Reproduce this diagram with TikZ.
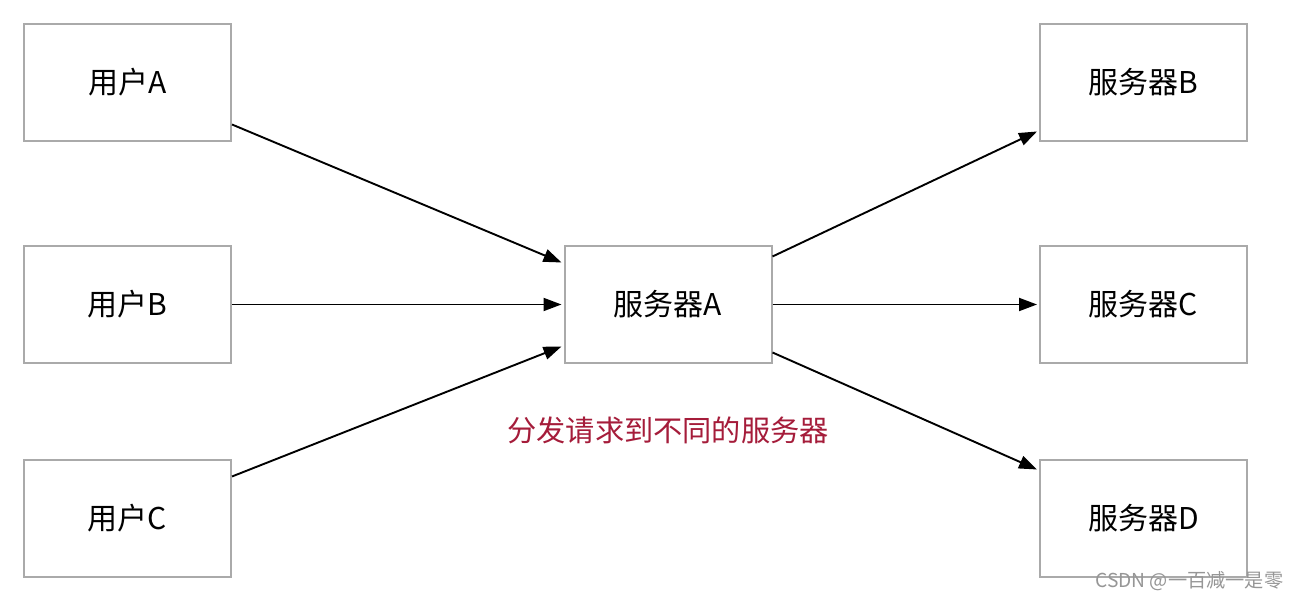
\documentclass[tikz,border=0pt]{standalone}
\usepackage{fontspec}
\setmainfont{Noto Sans CJK SC}
\usetikzlibrary{arrows.meta,calc}
\definecolor{boxgray}{RGB}{170,170,170}
\definecolor{notered}{RGB}{165,28,58}
\definecolor{wmgray}{RGB}{150,150,150}
\tikzset{
  box/.style={draw=boxgray,line width=1pt,fill=white,minimum width=103.5pt,minimum height=58.5pt,inner sep=0pt,font=\fontsize{15}{17}\selectfont},
  conn/.style={line width=0.95pt,-{Triangle[length=9pt,width=6.5pt]}}
}
\begin{document}
\begin{tikzpicture}[x=0.5pt,y=0.5pt]
\useasboundingbox[fill=white] (0,0) rectangle (1300,603);
\node[box] (ua) at (127.5,520.5) {用户A};
\node[box] (ub) at (127.5,298.5) {用户B};
\node[box] (uc) at (127.5,84.5) {用户C};
\node[box] (sa) at (668,298.5) {服务器A};
\node[box] (sb) at (1143.5,520.5) {服务器B};
\node[box] (sc) at (1143.5,298.5) {服务器C};
\node[box] (sd) at (1143.5,84.5) {服务器D};
\coordinate (ua1) at ($(ua.east)+(0,-42)$);
\coordinate (uc1) at ($(uc.east)+(0,42)$);
\coordinate (sain1) at ($(sa.west)+(0,42)$);
\coordinate (sain3) at ($(sa.west)+(0,-42)$);
\coordinate (saout1) at ($(sa.east)+(0,48)$);
\coordinate (saout3) at ($(sa.east)+(0,-48)$);
\coordinate (sbin) at ($(sb.west)+(0,-49)$);
\coordinate (sdin) at ($(sd.west)+(0,49)$);
\draw[conn] (ua1) -- ($(sain1)+(-2,0)$);
\draw[conn] (ub.east) -- ($(sa.west)+(-2,0)$);
\draw[conn] (uc1) -- ($(sain3)+(-2,0)$);
\draw[conn] (saout1) -- ($(sbin)+(-2,0)$);
\draw[conn] (sa.east) -- ($(sc.west)+(-2,0)$);
\draw[conn] (saout3) -- ($(sdin)+(-2,0)$);
\node[text=notered,font=\fontsize{14.6}{17}\selectfont] (note) at (668,173) {分发请求到不同的服务器};
\node[text=wmgray,font=\fontsize{9.6}{11}\selectfont,anchor=base west,inner sep=0pt] (wm) at (1095,15) {CSDN @一百减一是零};
\end{tikzpicture}
\end{document}
